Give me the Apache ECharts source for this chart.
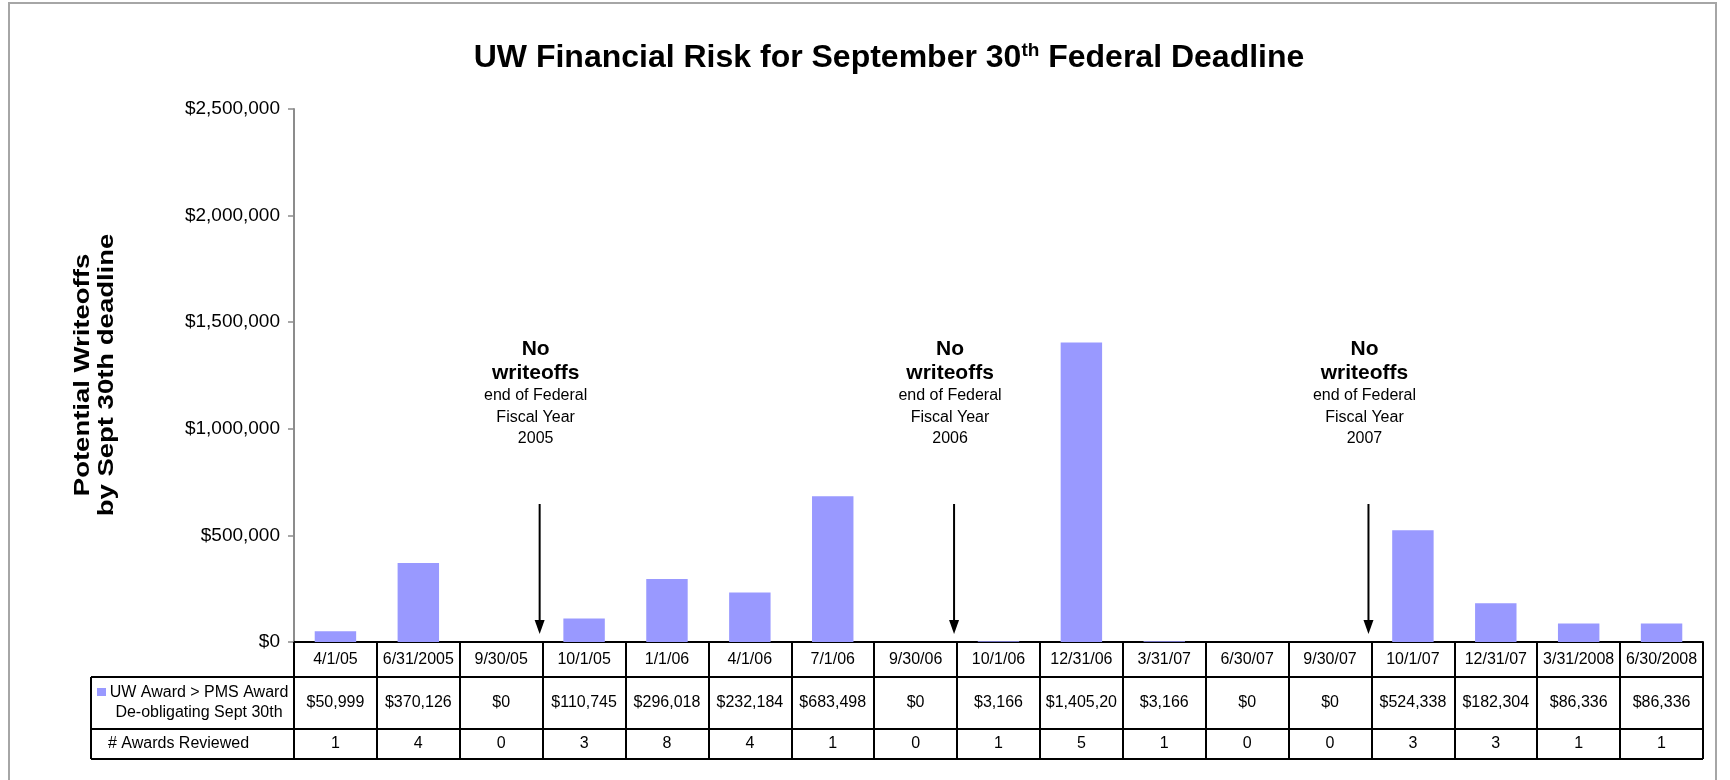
<!DOCTYPE html>
<html>
<head>
<meta charset="utf-8">
<script src="https://cdn.jsdelivr.net/npm/echarts@6/dist/echarts.min.js"></script>
<style>
  html, body { margin: 0; padding: 0; background: #fff; }
  #chart { width: 1730px; height: 780px; }
</style>
</head>
<body>
<div id="chart"></div>
<script>
// data
const categories = ['4/1/05', '6/31/2005', '9/30/05', '10/1/05', '1/1/06', '4/1/06', '7/1/06', '9/30/06',
  '10/1/06', '12/31/06', '3/31/07', '6/30/07', '9/30/07', '10/1/07', '12/31/07', '3/31/2008', '6/30/2008'];
const writeoffs = [50999, 370126, 0, 110745, 296018, 232184, 683498, 0,
  3166, 1405200, 3166, 0, 0, 524338, 182304, 86336, 86336];
const awardsReviewed = [1, 4, 0, 3, 8, 4, 1, 0, 1, 5, 1, 0, 0, 3, 3, 1, 1];
const yMax = 2500000;
const yStep = 500000;
// fiscal year ends: the arrow sits on the boundary before this category
const fyEndBoundary = [3, 8, 13];
const fyYears = ['2005', '2006', '2007'];

const FONT = "'Liberation Sans', Arial, sans-serif";
const money = v => '$' + v.toLocaleString('en-US');

// layout
const gx0 = 294, gx1 = 1703, axisY = 642, gTop = 109;
const row1 = 677, row2 = 729, row3 = 759, legX = 91;
const colW = (gx1 - gx0) / categories.length;

const chart = echarts.init(document.getElementById('chart'));

const graphics = [
  // outer frame
  { type: 'rect', shape: { x: 9, y: 3, width: 1707, height: 800 },
    style: { fill: 'none', stroke: '#a6a6a6', lineWidth: 2 }, silent: true },
  // table lines
  { type: 'line', shape: { x1: legX, y1: row1, x2: gx1, y2: row1 }, style: { stroke: '#000', lineWidth: 2 } },
  { type: 'line', shape: { x1: legX, y1: row2, x2: gx1, y2: row2 }, style: { stroke: '#000', lineWidth: 2 } },
  { type: 'line', shape: { x1: legX, y1: row3, x2: gx1, y2: row3 }, style: { stroke: '#000', lineWidth: 2 } },
  { type: 'line', shape: { x1: legX, y1: row1, x2: legX, y2: row3 }, style: { stroke: '#000', lineWidth: 2 } },
  // legend key
  { type: 'rect', shape: { x: 97, y: 688, width: 9, height: 8 }, style: { fill: '#9999ff' } },
  { type: 'text', x: 199, y: (row1 + row2) / 2,
    style: { text: 'UW Award > PMS Award\nDe-obligating Sept 30th', align: 'center', verticalAlign: 'middle',
      fontSize: 16, lineHeight: 20, fontFamily: FONT, fill: '#000' } },
  { type: 'text', x: 108, y: (row2 + row3) / 2,
    style: { text: '# Awards Reviewed', align: 'left', verticalAlign: 'middle',
      fontSize: 16, fontFamily: FONT, fill: '#000' } },
  // y axis title
  { type: 'text', x: 95, y: 375, rotation: Math.PI / 2, scaleX: 1.25,
    style: { text: 'Potential Writeoffs\nby Sept 30th deadline', align: 'center', verticalAlign: 'middle',
      fontSize: 22, fontWeight: 'bold', lineHeight: 24, fontFamily: FONT, fill: '#000' } }
];

// fiscal year end notes with arrows
fyEndBoundary.forEach((b, i) => {
  const x = gx0 + colW * b - 3;
  graphics.push(
    { type: 'text', x: x - 4, y: 337,
      style: {
        text: '{b|No}\n{b|writeoffs}\n{n|end of Federal}\n{n|Fiscal Year}\n{n|' + fyYears[i] + '}',
        align: 'center', verticalAlign: 'top', fontFamily: FONT,
        rich: {
          b: { fontSize: 21, fontWeight: 'bold', lineHeight: 24, fontFamily: FONT, fill: '#000', align: 'center' },
          n: { fontSize: 16, lineHeight: 21.5, fontFamily: FONT, fill: '#000', align: 'center' }
        }
      } },
    { type: 'line', shape: { x1: x, y1: 504, x2: x, y2: 624 }, style: { stroke: '#000', lineWidth: 2 } },
    { type: 'polygon', shape: { points: [[x - 5, 620], [x + 5, 620], [x, 634]] }, style: { fill: '#000' } }
  );
});

const option = {
  backgroundColor: '#fff',
  animation: false,
  title: {
    text: 'UW Financial Risk for September 30{sup|th} Federal Deadline',
    left: 884,
    top: 36,
    textAlign: 'center',
    textStyle: {
      fontSize: 32, fontWeight: 'bold', fontFamily: FONT, color: '#000', lineHeight: 34,
      rich: {
        sup: { fontSize: 19, fontWeight: 'bold', fontFamily: FONT, color: '#000', verticalAlign: 'top', lineHeight: 20 }
      }
    }
  },
  grid: { left: gx0, right: 1730 - gx1, top: gTop, bottom: 780 - axisY, containLabel: false },
  xAxis: [
    {
      type: 'category',
      data: categories,
      axisLine: { lineStyle: { color: '#000', width: 2 } },
      axisTick: { show: true, interval: 0, length: row3 - axisY, lineStyle: { color: '#000', width: 2 } },
      axisLabel: { interval: 0, margin: (row1 - axisY) / 2, verticalAlign: 'middle',
        fontSize: 16, fontFamily: FONT, color: '#000' },
      splitLine: { show: false }
    },
    {
      type: 'category',
      data: categories,
      position: 'bottom',
      offset: (row1 + row2) / 2 - axisY,
      axisLine: { show: false },
      axisTick: { show: false },
      axisLabel: { interval: 0, margin: 0, verticalAlign: 'middle', fontSize: 16, fontFamily: FONT, color: '#000',
        width: colW - 4, overflow: 'truncate', ellipsis: '',
        formatter: (v, i) => money(writeoffs[i]) }
    },
    {
      type: 'category',
      data: categories,
      position: 'bottom',
      offset: (row2 + row3) / 2 - axisY,
      axisLine: { show: false },
      axisTick: { show: false },
      axisLabel: { interval: 0, margin: 0, verticalAlign: 'middle', fontSize: 16, fontFamily: FONT, color: '#000',
        formatter: (v, i) => String(awardsReviewed[i]) }
    }
  ],
  yAxis: {
    type: 'value',
    min: 0,
    max: yMax,
    interval: yStep,
    axisLine: { show: true, lineStyle: { color: '#8c8c8c', width: 2 } },
    axisTick: { show: true, length: 6, lineStyle: { color: '#8c8c8c', width: 1.5 } },
    axisLabel: { margin: 14, fontSize: 19, fontFamily: FONT, color: '#000', formatter: v => money(v) },
    splitLine: { show: false }
  },
  series: [
    {
      name: 'UW Award > PMS Award De-obligating Sept 30th',
      type: 'bar',
      xAxisIndex: 0,
      data: writeoffs,
      barWidth: '50%',
      itemStyle: { color: '#9999ff' },
      z: 1
    }
  ],
  graphic: graphics
};

chart.setOption(option);
</script>
</body>
</html>
